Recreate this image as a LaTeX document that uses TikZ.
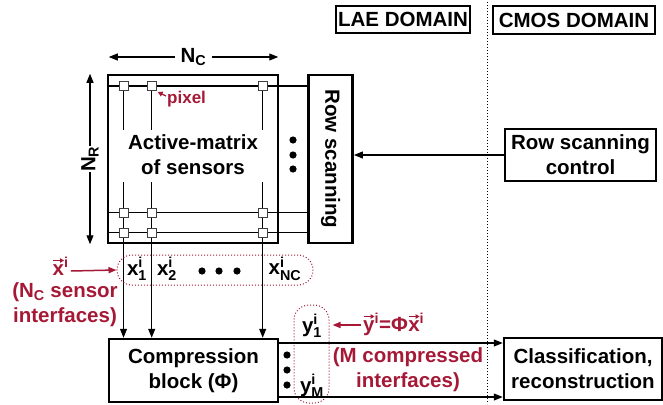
\documentclass[tikz,border=0pt]{standalone}
\usepackage{fontspec}
\usepackage{amsmath}
\setmainfont{Liberation Sans}
\usetikzlibrary{arrows.meta}
\definecolor{rd}{RGB}{165,25,55}
\begin{document}
\begin{tikzpicture}[x=1pt,y=-1pt,
  every node/.style={font=\bfseries\fontsize{20.5}{25}\selectfont, inner sep=0pt, align=center},
  thickbox/.style={draw, line width=2.5pt},
  wire/.style={line width=1.1pt},
  tip/.style={-{Triangle[length=9pt,width=7pt]}},
  dtip/.style={{Triangle[length=9pt,width=7pt]}-{Triangle[length=9pt,width=7pt]}},
  redtip/.style={rd, line width=1.5pt, -{Triangle[length=8pt,width=6pt]}},
  vecarrow/.style={rd, line width=1.2pt, -{Triangle[length=4pt,width=4.5pt]}},
  grp/.style={draw=rd, dotted, line width=1pt, rounded corners=15pt},
  pix/.style={draw=black!75, fill=white, line width=0.8pt, minimum size=9pt},
  redtxt/.style={text=rd}
]
\useasboundingbox (0,0) rectangle (663,404);

% domain labels and divider
\node[thickbox, minimum width=134, minimum height=27] (lae) at (403,19.5) {LAE DOMAIN};
\node[thickbox, minimum width=162, minimum height=28] (cmos) at (574,20) {CMOS DOMAIN};
\coordinate (dtop) at (487,2);
\coordinate (dbot) at (487,404);
\draw[dotted, line width=1pt] (dtop) -- (dbot);

% main boxes
\node[thickbox, minimum width=170, minimum height=168] (matrix) at (193,159) {};
\node[thickbox, minimum width=44, minimum height=168] (rowbox) at (330.7,159) {};
\node[rotate=-90] (rowtxt) at (rowbox.center) {Row scanning};
\node[thickbox, minimum width=151, minimum height=52] (ctrl) at (580.5,155) {Row scanning\\control};
\node[thickbox, minimum width=169, minimum height=63] (comp) at (193.5,370.5) {Compression\\block (Φ)};
\node[thickbox, minimum width=158, minimum height=62] (cls) at (583,369) {Classification,\\reconstruction};

% control arrow
\draw[wire, tip] (ctrl.west) -- (rowbox.east |- ctrl.west);

% pixel grid
\foreach \r/\y in {1/86,2/212.7,3/232.7}{
  \foreach \c/\x in {1/123.5,2/151.7,3/262.7}{
    \coordinate (c\r\c) at (\x,\y);
  }
}
\coordinate (brk) at (0,182);
\foreach \r in {1,2,3}{
  \draw[wire] (matrix.west |- c\r1) -- (rowbox.west |- c\r1);
}
\foreach \c in {1,2,3}{
  \draw[wire] (c1\c) -- ++(0,44);
  \draw[wire, tip] (c1\c |- brk) -- (c1\c |- comp.north);
}
\foreach \r in {1,2,3}{
  \foreach \c in {1,2,3}{
    \node[pix] (p\r\c) at (c\r\c) {};
  }
}

% matrix text and dots
\node (amtxt) at (193,155) {Active-matrix\\of sensors};
\foreach \y in {140,155,169}{ \fill (293,\y) circle (3.6pt); }

% pixel label
\node[redtxt, anchor=west, font=\bfseries\fontsize{17}{20}\selectfont] (pixlab) at (167,99) {pixel};
\draw[rd, line width=1.3pt, -{Triangle[length=5pt,width=5pt]}] ([shift={(-1,-3)}]pixlab.west) -- ([shift={(1,1)}]p12.south east);

% N_C and N_R
\coordinate (nc) at (0,57);
\coordinate (nr) at (90,0);
\draw[wire, dtip] ([xshift=2pt]matrix.west |- nc) -- ([xshift=-1pt]matrix.east |- nc)
  node[midway, fill=white, inner xsep=6pt] (nclab) {$\text{N}_{\text{C}}$};
\draw[wire, dtip] (nr |- matrix.north) -- (nr |- matrix.south)
  node[midway, fill=white, inner ysep=6pt, rotate=90] (nrlab) {$\text{N}_{\text{R}}$};

% sensor interfaces
\node[grp, minimum width=196, minimum height=30] (xgrp) at (215,270) {};
\node (x1) at (137,269) {$\text{x}^{\text{i}}_{\text{1}}$};
\node (x2) at (167,269) {$\text{x}^{\text{i}}_{\text{2}}$};
\node (xn) at (285,269) {$\text{x}^{\text{i}}_{\text{NC}}$};
\foreach \x in {202,219,237}{ \fill (\x,271) circle (3.6pt); }
\node[redtxt, anchor=base west] (xvec) at (52.5,275) {x$^{\text{i}}$};
\draw[vecarrow] ([shift={(0.5,-14.5)}]xvec.base west) -- ++(11,0);
\coordinate (xa) at (0,271);
\draw[redtip] ([xshift=2pt]xvec.east |- xa) -- (xgrp.west);
\node[redtxt] (nctxt) at (65,305) {(N\textsubscript{C} sensor\\interfaces)};

% compressed interfaces
\node[grp, minimum width=35, minimum height=98] (ygrp) at (311.5,354) {};
\node (y1) at (312,326) {$\text{y}^{\text{i}}_{\text{1}}$};
\node (ym) at (312,386) {$\text{y}^{\text{i}}_{\text{M}}$};
\foreach \y in {355,370,385}{ \fill (287,\y) circle (3.6pt); }
\node[redtxt, anchor=base west] (yv) at (363,331) {y$^{\text{i}}$=Φ};
\node[redtxt, anchor=base west] (xv) at (yv.base east) {x$^{\text{i}}$};
\draw[vecarrow] ([shift={(0.5,-14.5)}]yv.base west) -- ++(11,0);
\draw[vecarrow] ([shift={(0.5,-14.5)}]xv.base west) -- ++(11,0);
\coordinate (ya) at (0,325);
\draw[redtip] ([xshift=-2pt]yv.west |- ya) -- ([xshift=3pt]ygrp.east |- ya);
\node[redtxt] (mtxt) at (408,370) {(M compressed\\interfaces)};

% outputs
\coordinate (o1) at (0,343);
\coordinate (o2) at (0,397);
\draw[wire, tip] (comp.east |- o1) -- (cls.west |- o1);
\draw[wire, tip] (comp.east |- o2) -- (cls.west |- o2);
\end{tikzpicture}
\end{document}
